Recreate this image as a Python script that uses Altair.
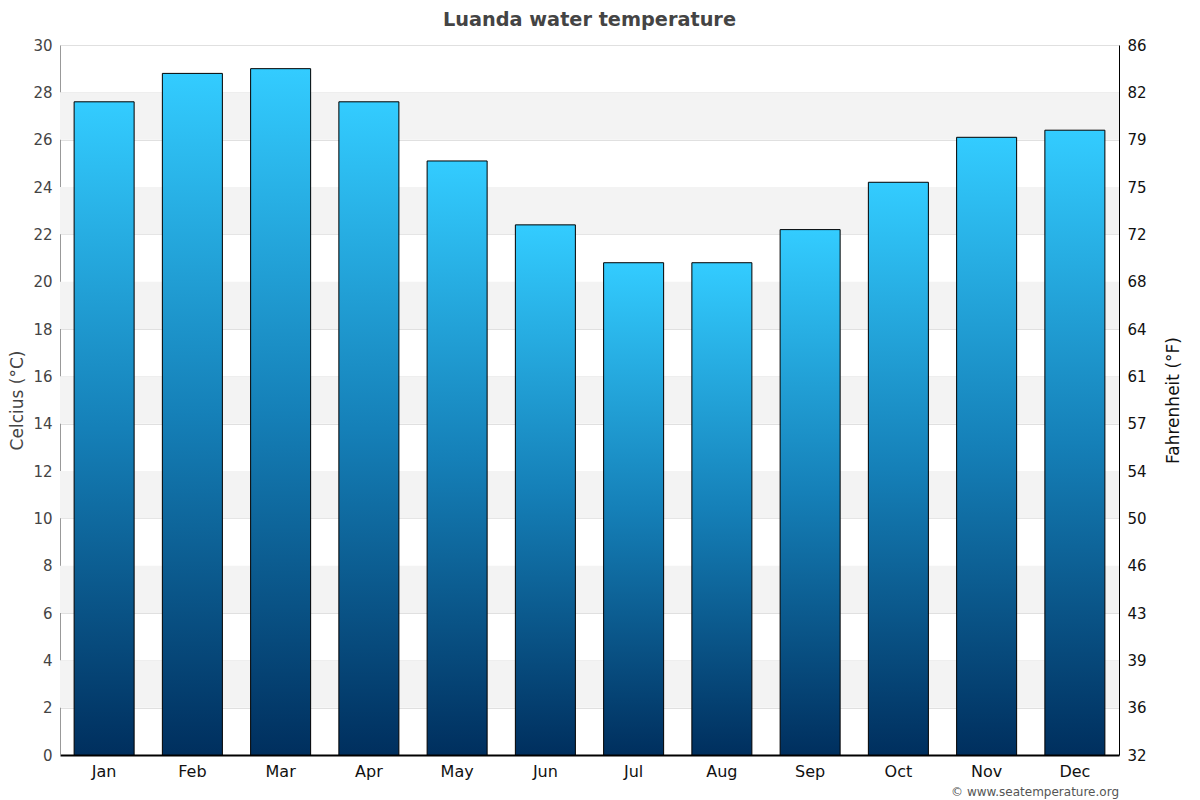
import altair as alt
import pandas as pd

months = ["Jan", "Feb", "Mar", "Apr", "May", "Jun", "Jul", "Aug", "Sep", "Oct", "Nov", "Dec"]
celsius = [27.6, 28.8, 29.0, 27.6, 25.1, 22.4, 20.8, 20.8, 22.2, 24.2, 26.1, 26.4]
band_starts = [2, 6, 10, 14, 18, 22, 26]
c_ticks = list(range(0, 31, 2))

df = pd.DataFrame({"month": months, "c": celsius})
bands = pd.DataFrame({"y0": band_starts, "y1": [b + 2 for b in band_starts]})
fdf = pd.DataFrame({"f": [c * 9 / 5 + 32 for c in c_ticks]})

FONT = "DejaVu Sans"
W, H = 1059, 710

yc = alt.Scale(domain=[0, 30], nice=False)

band_layer = alt.Chart(bands).mark_rect(color="#f3f3f3").encode(
    y=alt.Y("y0:Q", scale=yc,
            axis=alt.Axis(title="Celcius (°C)", values=c_ticks, grid=True, gridColor="#e0e0e0",
                          gridWidth=1, ticks=False, domainColor="#999999", domainWidth=1,
                          labelColor="#444444", labelFontSize=15, labelFont=FONT, labelPadding=8,
                          titleFont=FONT, titleFontSize=17, titleColor="#444444",
                          titleFontWeight="normal", titlePadding=6)),
    y2="y1:Q",
    x=alt.value(0),
    x2=alt.value(W),
)

gradient = alt.LinearGradient(
    gradient="linear", x1=0, y1=1, x2=0, y2=0,
    stops=[alt.GradientStop(color="#002f5e", offset=0),
           alt.GradientStop(color="#1580b8", offset=0.5),
           alt.GradientStop(color="#33ccff", offset=1)],
)

bar_layer = alt.Chart(df).mark_bar(color=gradient, stroke="black", strokeWidth=1).encode(
    x=alt.X("month:N", sort=months,
            scale=alt.Scale(paddingInner=0.32, paddingOuter=0.16),
            axis=alt.Axis(title=None, labelAngle=0, ticks=False, domainColor="black", domainWidth=2,
                          labelColor="#111111", labelFontSize=16, labelFont=FONT, labelPadding=8)),
    y=alt.Y("c:Q", scale=yc, axis=None),
)

f_layer = alt.Chart(fdf).mark_point(opacity=0).encode(
    y=alt.Y("f:Q", scale=alt.Scale(domain=[32, 86], nice=False),
            axis=alt.Axis(orient="right", title="Fahrenheit (°F)", values=fdf["f"].tolist(),
                          labelExpr="round(datum.value)", grid=False, ticks=False,
                          domainColor="black", domainWidth=1, labelColor="#111111",
                          labelFontSize=15, labelFont=FONT, labelPadding=8,
                          titleFont=FONT, titleFontSize=17, titleColor="#111111",
                          titleFontWeight="normal", titleAngle=270, titlePadding=36)),
)

copy_layer = alt.Chart(pd.DataFrame({"t": ["© www.seatemperature.org"]})).mark_text(
    align="right", baseline="middle", font=FONT, fontSize=12, color="#555555"
).encode(text="t:N", x=alt.value(W), y=alt.value(H + 37))

chart = alt.layer(band_layer, bar_layer, f_layer, copy_layer).resolve_scale(
    y="independent"
).properties(
    width=W, height=H,
    title=alt.TitleParams("Luanda water temperature", font=FONT, fontSize=19.3, fontWeight="bold",
                          color="#444444", offset=8),
    autosize=alt.AutoSizeParams(type="none"),
    padding={"left": 52, "top": 37, "right": 73, "bottom": 45},
).configure_view(stroke=None)

chart.save("out.html", embed_options={"renderer": "svg", "actions": False})
